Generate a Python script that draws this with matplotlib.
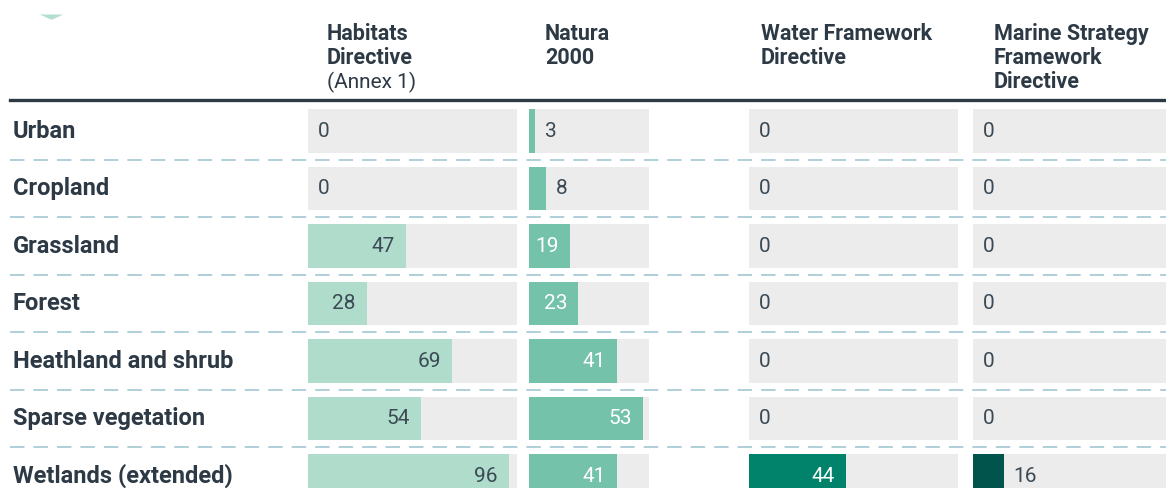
import matplotlib.pyplot as plt
from matplotlib.lines import Line2D

# Data
categories = ['Urban', 'Cropland', 'Grassland', 'Forest', 'Heathland and shrub',
              'Sparse vegetation', 'Wetlands (extended)']
habitats = [0, 0, 47, 28, 69, 54, 96]
natura = [3, 8, 19, 23, 41, 53, 41]
water = [0, 0, 0, 0, 0, 0, 44]
marine = [0, 0, 0, 0, 0, 0, 16]

series = [habitats, natura, water, marine]
headers_bold = [['Habitats', 'Directive'], ['Natura', '2000'],
                ['Water Framework', 'Directive'],
                ['Marine Strategy', 'Framework', 'Directive']]
header_sub = ['(Annex 1)', '', '', '']
col_max = [100, 56, 95, 100]

# Styles
bar_colors = ['#b0dccb', '#73c2a9', '#00836a', '#00544c']
inside_text = ['#3b4a55', 'white', 'white', 'white']
bg_color = '#ececec'
dark = '#2d3a45'
dash_color = '#a9cbd6'

plt.rcParams['font.family'] = ['Roboto', 'DejaVu Sans']

W, H = 1166, 488
fig = plt.figure(figsize=(W / 100, H / 100), dpi=100)

def box(x0, x1, ytop, ybot):
    return [x0 / W, 1 - ybot / H, (x1 - x0) / W, (ybot - ytop) / H]

n = len(categories)
row_h = 57.5
ytop = 102.25
ybot = ytop + n * row_h

# Background axes for row labels and dashed separators
bg = fig.add_axes(box(0, W, ytop, ybot))
bg.set_xlim(0, W)
bg.set_ylim(n - 0.5, -0.5)
bg.axis('off')
for i in range(n - 1):
    bg.plot([10, W], [i + 0.5, i + 0.5], color=dash_color, lw=1.3,
            dashes=(8, 5))
for i, cat in enumerate(categories):
    bg.text(13, i, cat, fontsize=17, fontweight='bold', color=dark,
            va='center', ha='left')

# Header rule
fig.add_artist(Line2D([10 / W, 1], [1 - 100 / H] * 2, color=dark, lw=2.4,
                      transform=fig.transFigure))

# Little flat triangle top-left
fig.add_artist(Line2D([51 / W], [1 - 14 / H], marker=[(-1, 0), (1, 0), (0, -0.45)],
                      markersize=17, color='#b3dfd0', markeredgewidth=0,
                      transform=fig.transFigure))

col_x = [(308, 517), (529, 649), (749, 958), (973, 1166)]
header_x = [327, 545, 761, 994]
baselines = [40, 64, 88]

ypos = list(range(n))
for c, vals in enumerate(series):
    x0, x1 = col_x[c]
    ax = fig.add_axes(box(x0, x1, ytop, ybot))
    ax.set_xlim(0, col_max[c])
    ax.set_ylim(n - 0.5, -0.5)
    ax.axis('off')
    ax.patch.set_alpha(0)
    ax.barh(ypos, [col_max[c]] * n, height=0.75, color=bg_color)
    ax.barh(ypos, vals, height=0.75, color=bar_colors[c])
    px_per_unit = (x1 - x0) / col_max[c]
    for i, v in enumerate(vals):
        if v * px_per_unit > 34:
            ax.annotate(str(v), (v, i), xytext=(-8, 0), textcoords='offset points',
                        ha='right', va='center', fontsize=15,
                        color=inside_text[c])
        else:
            ax.annotate(str(v), (v, i), xytext=(7, 0), textcoords='offset points',
                        ha='left', va='center', fontsize=15, color='#3b4a55')

    # Column headers
    lines = headers_bold[c]
    for k, line in enumerate(lines):
        fig.text(header_x[c] / W, 1 - baselines[k] / H, line, fontsize=15.5,
                 fontweight='bold', color=dark, va='baseline', ha='left')
    if header_sub[c]:
        fig.text(header_x[c] / W, 1 - baselines[len(lines)] / H, header_sub[c],
                 fontsize=15, color=dark, va='baseline', ha='left')

fig.savefig('out.png', dpi=100)
